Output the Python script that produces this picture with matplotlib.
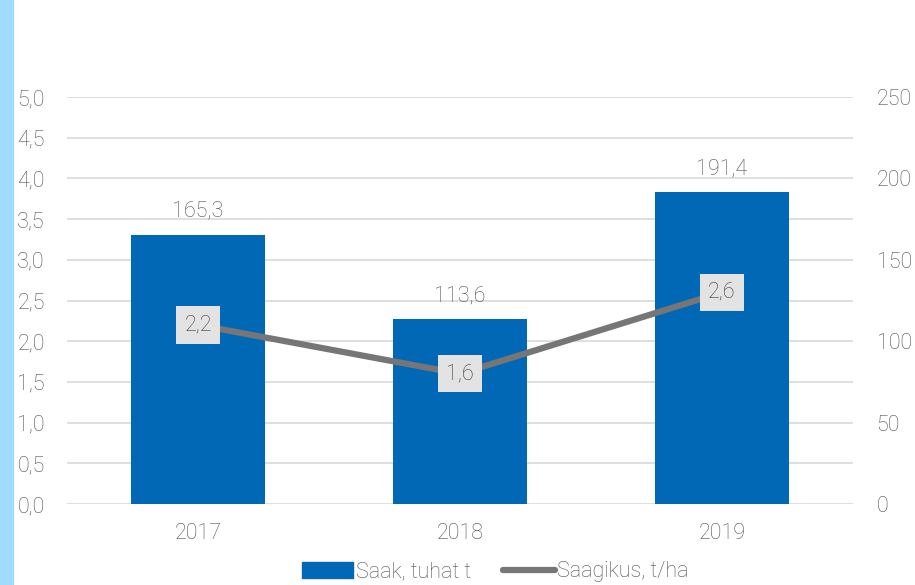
import matplotlib
matplotlib.use("Agg")
import matplotlib.pyplot as plt
from matplotlib.patches import Rectangle, Patch
from matplotlib.lines import Line2D

years = ["2017", "2018", "2019"]
saak = [165.3, 113.6, 191.4]
saagikus = [2.2, 1.6, 2.6]
left_ticks = [0.0, 0.5, 1.0, 1.5, 2.0, 2.5, 3.0, 3.5, 4.0, 4.5, 5.0]
right_ticks = [0, 50, 100, 150, 200, 250]

plt.rcParams['font.family'] = ['Roboto', 'DejaVu Sans']
plt.rcParams['font.weight'] = 'light'
txt = '#4f4f4f'
blue = '#0068b4'
gray = '#767676'
fs = 15.5

fig = plt.figure(figsize=(9.15, 5.85), dpi=100)
fig.patches.append(Rectangle((0, 0), 13/915, 1, transform=fig.transFigure,
                             color='#a0dcff', zorder=0))

ax = fig.add_axes([67/915, 1-504/585, (853-67)/915, (504-97)/585])
ax2 = ax.twinx()

x = list(range(len(years)))
ax2.bar(x, saak, width=0.51, color=blue, zorder=2)
for xi, v in zip(x, saak):
    ax2.text(xi, v + 11, f"{v:.1f}".replace('.', ','), ha='center', va='baseline',
             fontsize=fs, color=txt)

ax2.set_ylim(0, 250)
ax2.set_yticks(right_ticks)
ax2.set_yticklabels([str(t) for t in right_ticks])

ax.set_ylim(0, 5)
ax.set_yticks(left_ticks)
ax.set_yticklabels([f"{t:.1f}".replace('.', ',') for t in left_ticks])
ax.set_xlim(-0.5, 2.5)
ax.set_xticks(x)
ax.set_xticklabels(years)
ax.grid(axis='y', color='#d9d9d9', linewidth=1.2, zorder=0)
ax.set_axisbelow(True)

scale = 250 / 5
ax2.plot(x, [v * scale for v in saagikus], color=gray, linewidth=4.5, zorder=3,
         solid_capstyle='round')
for xi, v in zip(x, saagikus):
    ax2.text(xi, v * scale, f"{v:.1f}".replace('.', ','), ha='center', va='center',
             fontsize=fs, color='#3c3c3c', zorder=4,
             bbox=dict(boxstyle='square,pad=0.38', facecolor='#e3e3e3', edgecolor='none'))

for a in (ax, ax2):
    for s in a.spines.values():
        s.set_visible(False)
    a.tick_params(length=0, labelsize=fs, labelcolor=txt)
ax.tick_params(axis='y', pad=16)
ax2.tick_params(axis='y', pad=17)
ax.tick_params(axis='x', pad=14)

handles = [Patch(color=blue), Line2D([0], [0], color=gray, linewidth=4.5, solid_capstyle='round')]
fig.legend(handles, ["Saak, tuhat t", "Saagikus, t/ha"], loc='center',
           bbox_to_anchor=(495/915, 1-572/585), ncol=2, frameon=False,
           fontsize=fs, labelcolor=txt, handlelength=2.4, handletextpad=0.1,
           columnspacing=1.5)

fig.savefig("out.png", dpi=100)
